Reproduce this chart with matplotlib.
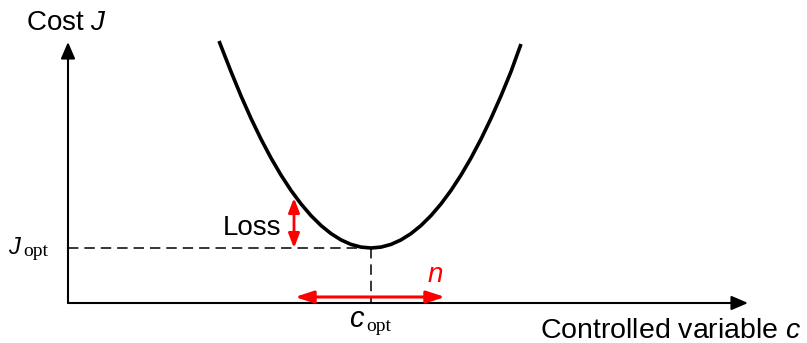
import numpy as np
import matplotlib.pyplot as plt
from matplotlib.patches import FancyArrowPatch

plt.rcParams['font.family'] = 'Liberation Sans'
plt.rcParams['mathtext.fontset'] = 'custom'
plt.rcParams['mathtext.it'] = 'Liberation Sans:italic'
plt.rcParams['mathtext.rm'] = 'Liberation Serif'
plt.rcParams['lines.scale_dashes'] = False

# cost curve J(c), sampled along the controlled variable
c_vals = [1.51, 1.63, 1.73, 1.83, 1.93, 2.03, 2.13, 2.23, 2.33, 2.43, 2.53,
          2.63, 2.73, 2.83, 2.93, 3.03, 3.13, 3.23, 3.33, 3.43, 3.53, 3.63,
          3.73, 3.83, 3.93, 4.03, 4.13, 4.23, 4.33, 4.43, 4.53]
J_vals = [2.620, 2.314, 2.071, 1.846, 1.639, 1.450, 1.279, 1.126, 0.991,
          0.874, 0.775, 0.694, 0.631, 0.586, 0.559, 0.550, 0.559, 0.586,
          0.631, 0.694, 0.775, 0.874, 0.991, 1.126, 1.279, 1.450, 1.639,
          1.846, 2.071, 2.314, 2.590]

c_opt = 3.03
J_opt = 0.55

# axis extents
c_max = 6.80
J_max = 2.61

# loss arrow (at c_loss, from J_opt up to the curve) and noise range n
c_loss = 2.26
J_loss_top = 1.05
n_range = [2.27, 3.77]
n_level = 0.06

fig = plt.figure(figsize=(8.07, 3.43), dpi=100)
ax = fig.add_axes([0, 0, 1, 1])
ax.set_xlim(-0.68, 7.39)
ax.set_ylim(-0.40, 3.03)
ax.axis('off')


def arrow(p0, p1, style, color, lw):
    a = FancyArrowPatch(p0, p1, arrowstyle=style, color=color, lw=lw,
                        mutation_scale=1, shrinkA=0, shrinkB=0, zorder=4)
    ax.add_patch(a)


# dashed guides to the optimum
ax.plot([0, c_opt], [J_opt, J_opt], color='black', lw=1.1,
        dashes=(7.5, 4.3), zorder=2)
ax.plot([c_opt, c_opt], [J_opt, 0], color='black', lw=1.1,
        dashes=(7.5, 4.3), zorder=2)

# axes with arrow heads
arrow((0, 0), (c_max, 0), '-|>,head_length=10,head_width=4.3', 'black', 1.5)
arrow((0, 0), (0, J_max), '-|>,head_length=10,head_width=4.3', 'black', 1.5)

# cost curve
ax.plot(c_vals, J_vals, color='black', lw=2.6, solid_capstyle='butt',
        solid_joinstyle='round', zorder=3)

# red arrows
arrow((c_loss, J_opt), (c_loss, J_loss_top),
      '<|-|>,head_length=8.5,head_width=3.3', 'red', 2.0)
arrow((n_range[0], n_level), (n_range[1], n_level),
      '<|-|>,head_length=11,head_width=3.6', 'red', 2.2)

# labels
ax.text(-0.42, 2.73, 'Cost $J$', fontsize=20, va='baseline', ha='left')
ax.text(4.72, -0.35, 'Controlled variable $c$', fontsize=20.5,
        va='baseline', ha='left')
ax.text(1.55, 0.68, 'Loss', fontsize=20, va='baseline', ha='left')
ax.text(3.60, 0.21, 'n', fontsize=20, style='italic', color='red',
        va='baseline', ha='left')

ax.text(-0.60, 0.49, 'J', fontsize=17, style='italic', va='baseline', ha='left')
ax.text(-0.45, 0.47, 'opt', fontsize=14, family='Liberation Serif',
        va='baseline', ha='left')
ax.text(2.81, -0.24, 'c', fontsize=21, style='italic', va='baseline', ha='left')
ax.text(2.98, -0.28, 'opt', fontsize=14, family='Liberation Serif',
        va='baseline', ha='left')

fig.savefig('out.png', dpi=100)
